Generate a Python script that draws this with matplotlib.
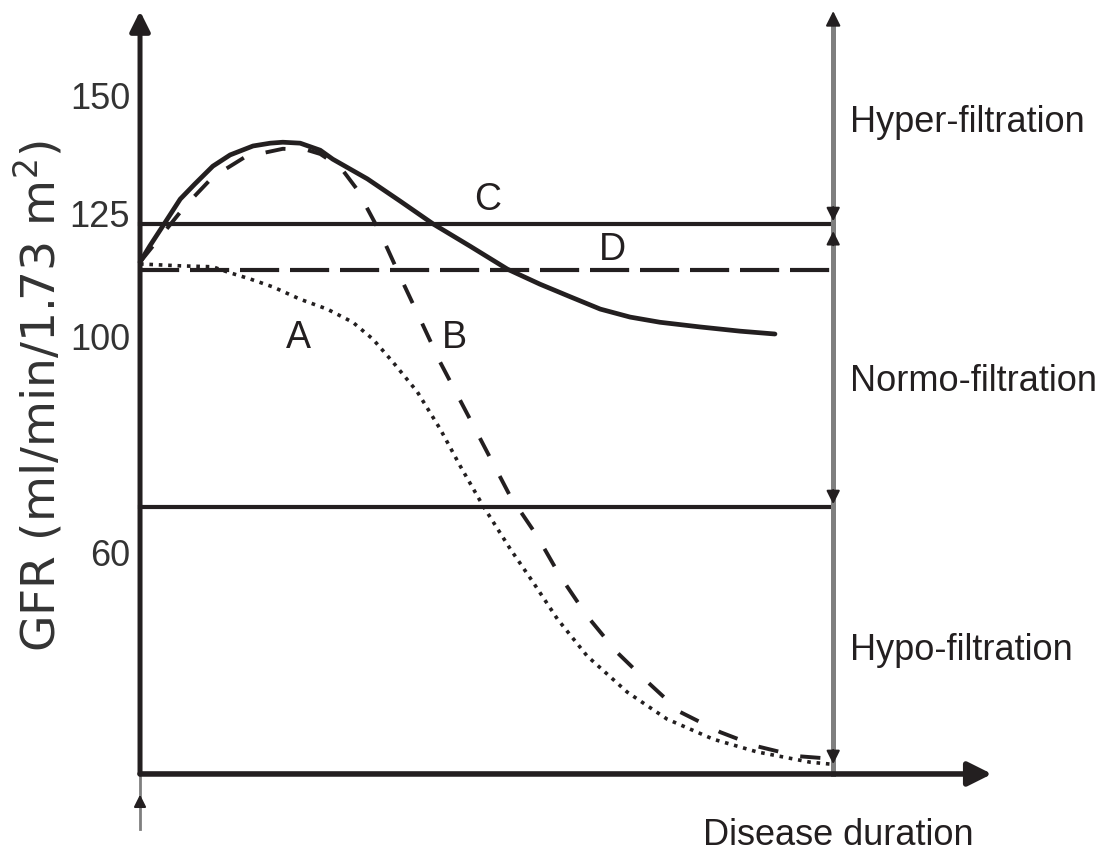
import numpy as np
import matplotlib
matplotlib.use("Agg")
import matplotlib.pyplot as plt

# Schematic data: x = disease duration (arbitrary units, 0..100), y = GFR
curve_a_x = [0, 5.8, 10.5, 12.6, 15.9, 19.2, 23.1, 27.0, 30.7, 33.6, 36.5, 40.0, 43.3,
             46.2, 49.5, 53.4, 56.7, 60.2, 64.5, 70.3, 76.0, 82.7, 89.0, 96.7, 99.6]
curve_a_y = [116.5, 116.1, 115.9, 114.8, 113.3, 111.6, 109.0, 106.9, 104.1, 100.5, 95.6, 89.3, 81.4,
             73.5, 65.0, 55.9, 48.8, 41.0, 33.1, 25.4, 19.7, 15.4, 12.7, 10.5, 10.1]

curve_b_x = [0, 3.6, 6.5, 10.5, 15.2, 20.6, 24.0, 26.0, 28.9, 31.3, 34.6, 37.5, 40.4, 43.3,
             47.6, 53.4, 57.3, 60.6, 64.5, 68.8, 73.2, 77.9, 83.7, 89.0, 94.8, 100]
curve_b_y = [116.9, 123.5, 128.8, 135.0, 139.3, 141.0, 140.8, 139.9, 137.1, 132.4, 123.3, 113.9, 104.8, 95.6,
             83.5, 67.1, 58.6, 50.1, 41.6, 33.9, 27.6, 21.2, 16.9, 13.9, 11.8, 11.2]

curve_c_x = [0, 1.4, 3.3, 5.8, 7.9, 10.5, 13.0, 16.3, 18.8, 20.6, 23.1, 26.0, 27.8, 30.3, 32.8,
             37.5, 42.3, 47.6, 53.0, 57.7, 62.1, 66.4, 70.7, 75.0, 80.8, 86.6, 91.6]
curve_c_y = [116.9, 120.3, 124.6, 130.3, 133.5, 137.3, 139.7, 141.6, 142.2, 142.4, 142.2, 140.7, 138.8,
             136.7, 134.6, 129.9, 125.0, 120.3, 115.4, 112.2, 109.5, 106.9, 105.2, 104.1, 103.1, 102.2, 101.6]

hyper_limit = 125
baseline_gfr = 115.2
hypo_limit = 64.8

tick_labels = ["150", "125", "100", "60"]
tick_label_pos = [151.6, 126.5, 100.5, 54.4]

zone_labels = ["Hyper-filtration", "Normo-filtration", "Hypo-filtration"]
zone_label_pos = [144.8, 89.7, 32.4]

curve_names = ["A", "B", "C", "D"]
curve_name_pos = [(22.8, 98.8), (45.3, 98.8), (50.1, 128.2), (68.1, 117.6)]

dark = "#231f20"
grey = "#7f7f7f"
font = ["Liberation Sans", "DejaVu Sans"]

fig = plt.figure(figsize=(11.16, 8.53), dpi=100)
ax = fig.add_axes([0, 0, 1, 1])
ax.set_xlim(-20.2, 140.8)
ax.set_ylim(-8.6, 172.87)
ax.axis("off")

x_end = 100
y_base = 8.0
y_top = 170.3

# reference lines
ax.plot([0, x_end], [hyper_limit, hyper_limit], color=dark, lw=3.0)
ax.plot([0, x_end], [hypo_limit, hypo_limit], color=dark, lw=3.0)
ax.plot([0, x_end], [baseline_gfr, baseline_gfr], color=dark, lw=3.0, dashes=(9.4, 2.6))

# curves
ax.plot(curve_a_x, curve_a_y, color=dark, lw=2.6, dashes=(1.0, 1.6))
ax.plot(curve_b_x, curve_b_y, color=dark, lw=2.8, dashes=(5.2, 5.8))
ax.plot(curve_c_x, curve_c_y, color=dark, lw=3.4, solid_capstyle="round")

# axes with arrows
def arrow(xy, xytext, lw, ms, color=dark):
    ax.annotate("", xy=xy, xytext=xytext,
                arrowprops=dict(arrowstyle="-|>", lw=lw, color=color,
                                mutation_scale=ms, shrinkA=0, shrinkB=0))

arrow((0, y_top), (0, y_base), 3.6, 30)
ax.plot([0, 0], [-3.7, y_base], color=grey, lw=2.0)
arrow((0, 3.6), (0, 1.0), 1.5, 18)
arrow((122.9, y_base), (0, y_base), 4.0, 36)

# right-hand zone bar
ax.plot([x_end, x_end], [y_base, y_top - 2], color=grey, lw=3.6)
arrow((x_end, y_top), (x_end, y_top - 3), 1.5, 22)
for tip, d in [(125.6, 1), (123.5, -1), (65.4, 1), (10.1, 1)]:
    arrow((x_end, tip), (x_end, tip + 3 * d), 1.5, 20)

# text
for lab, yp in zip(tick_labels, tick_label_pos):
    ax.text(-1.44, yp, lab, ha="right", va="center", fontsize=26,
            family=font, color="#333333")

ax.text(-14.6, 88.6, "GFR (ml/min/1.73 m$^2$)", rotation=90, ha="center", va="center",
        fontsize=34, family="DejaVu Sans", color="#333333")

for lab, yp in zip(zone_labels, zone_label_pos):
    ax.text(102.4, yp, lab, ha="left", va="baseline", fontsize=26,
            family=font, color=dark)

for lab, (xp, yp) in zip(curve_names, curve_name_pos):
    ax.text(xp, yp, lab, ha="center", va="baseline", fontsize=27,
            family=font, color=dark)

ax.text(81.2, -6.8, "Disease duration", ha="left", va="baseline", fontsize=26,
        family=font, color=dark)

fig.savefig("out.png", dpi=100)
